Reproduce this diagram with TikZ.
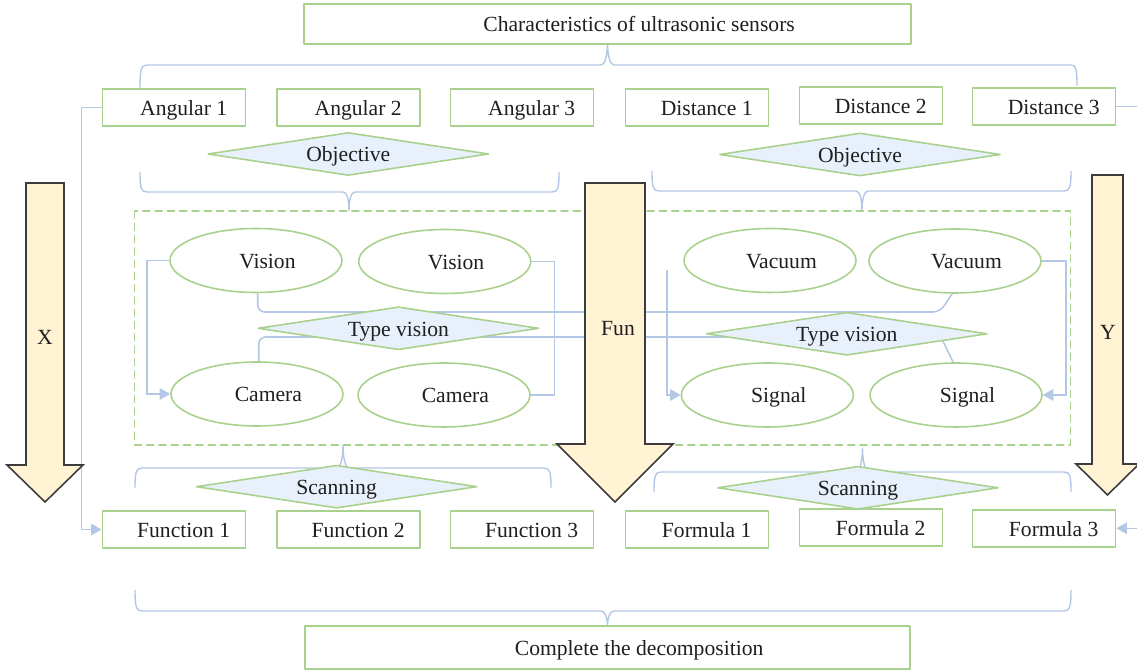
\documentclass[tikz,border=0pt]{standalone}
\usepackage{fontspec}
\setmainfont{Liberation Serif}
\usetikzlibrary{arrows.meta,shapes.geometric,backgrounds}

\definecolor{boxgreen}{RGB}{169,209,142}
\definecolor{linkblue}{RGB}{180,199,231}
\definecolor{diafill}{RGB}{232,241,251}
\definecolor{arrowfill}{RGB}{255,243,212}
\definecolor{arrowline}{RGB}{60,60,60}

\tikzset{
  every node/.style={font=\fontsize{12.3}{14}\selectfont, text=black!88, text height=9pt, text depth=0pt},
  box/.style={draw=boxgreen, fill=white, line width=1pt, minimum width=2.86cm, minimum height=0.74cm,
    inner sep=2pt, execute at begin node={\hspace*{#1}}},
  box/.default=11pt,
  oval/.style={ellipse, draw=boxgreen, fill=white, line width=0.9pt, minimum width=3.44cm, minimum height=1.28cm,
    inner sep=1pt, execute at begin node={\hspace*{13pt}}},
  choice/.style={diamond, draw=boxgreen, fill=diafill, line width=0.9pt, shape aspect=6, inner sep=0pt,
    minimum width=5.62cm, minimum height=0.86cm},
  link/.style={draw=linkblue, line width=0.9pt},
  linkarrow/.style={-{Triangle[length=6pt,width=6.5pt]}},
  brace/.style={draw=linkblue, line width=0.8pt},
  group/.style={draw=boxgreen, line width=0.9pt, dash pattern=on 4pt off 3pt},
  bigarrow/.style={draw=arrowline, fill=arrowfill, line width=0.9pt, line join=miter}
}

\begin{document}
\begin{tikzpicture}[x=0.02cm, y=-0.02cm, line join=round, line cap=round]

  \useasboundingbox (0,0) rectangle (1137,671);

  % title and result
  \node[box=36pt, minimum width=12.14cm, minimum height=0.8cm] (top) at (607.5,24) {Characteristics of ultrasonic sensors};
  \node[box=36pt, minimum width=12.1cm, minimum height=0.86cm] (bottom) at (607.5,647.5) {Complete the decomposition};

  % upper row
  \node[box] (a1) at (174,107.5) {Angular 1};
  \node[box] (a2) at (348.5,107.5) {Angular 2};
  \node[box] (a3) at (522,107.5) {Angular 3};
  \node[box] (d1) at (697,107.5) {Distance 1};
  \node[box] (d2) at (871,105.5) {Distance 2};
  \node[box] (d3) at (1044,106.3) {Distance 3};

  % lower row
  \node[box] (f1) at (174,529.5) {Function 1};
  \node[box] (f2) at (348.5,529.5) {Function 2};
  \node[box] (f3) at (522,529.5) {Function 3};
  \node[box] (fo1) at (697,529.5) {Formula 1};
  \node[box] (fo2) at (871,527.3) {Formula 2};
  \node[box] (fo3) at (1044,528.3) {Formula 3};

  % inner group
  \draw[group] (134.7,211) rectangle (1070.5,445);
  \node[oval] (v1) at (256,260.5) {Vision};
  \node[oval] (v2) at (444.7,261.5) {Vision};
  \node[oval] (cam1) at (257,394) {Camera};
  \node[oval] (cam2) at (444,395) {Camera};
  \node[oval] (vac1) at (770,260.5) {Vacuum};
  \node[oval] (vac2) at (955,261) {Vacuum};
  \node[oval] (sig1) at (767.4,395) {Signal};
  \node[oval] (sig2) at (956,395) {Signal};

  % decisions
  \node[choice] (obj1) at (348.3,154) {Objective};
  \node[choice] (obj2) at (860,154.5) {Objective};
  \node[choice] (type1) at (398.4,328.3) {Type vision};
  \node[choice] (type2) at (846.8,333.8) {Type vision};
  \node[choice] (scan1) at (336.6,486.7) {Scanning};
  \node[choice] (scan2) at (858,487.8) {Scanning};

  \coordinate (sigin) at (667,270);
  \coordinate (redge1) at (1137,106.3);
  \coordinate (redge2) at (1137,528.3);

  \begin{scope}[on background layer]
    % braces
    \draw[brace] (140,88) .. controls (140,70) and (141,65) .. (147,65) -- (601,65)
      .. controls (605,65) and (607,56) .. (top.south) .. controls (608,56) and (610,65) .. (614,65)
      -- (1071,65) .. controls (1076,65) and (1077,70) .. (1077,86);
    \draw[brace] (140,172) .. controls (140,188) and (141,192) .. (147,192) -- (343,192)
      .. controls (347,192) and (349,200) .. (349,211) .. controls (349,200) and (351,192) .. (355,192)
      -- (552,192) .. controls (558,192) and (559,188) .. (559,172);
    \draw[brace] (652,171) .. controls (652,187) and (653,191) .. (659,191) -- (856,191)
      .. controls (860,191) and (862,200) .. (862,211) .. controls (862,200) and (864,191) .. (868,191)
      -- (1064,191) .. controls (1070,191) and (1071,187) .. (1071,171);
    \draw[brace] (135,488) .. controls (135,472) and (136,468) .. (142,468) -- (337,468)
      .. controls (341,468) and (343,456) .. (343,445) .. controls (343,456) and (345,468) .. (349,468)
      -- (544,468) .. controls (550,468) and (551,472) .. (551,488);
    \draw[brace] (654,492) .. controls (654,476) and (655,472) .. (661,472) -- (856,472)
      .. controls (860,472) and (862.5,460) .. (862.5,448) .. controls (862.5,460) and (865,472) .. (869,472)
      -- (1064,472) .. controls (1070,472) and (1071,476) .. (1071,492);
    \draw[brace] (135,590) .. controls (135,606) and (136,611) .. (142,611) -- (601,611)
      .. controls (605,611) and (607.5,618) .. (bottom.north) .. controls (607.5,618) and (610,611) .. (614,611)
      -- (1064,611) .. controls (1070,611) and (1071,606) .. (1071,590);

    % connectors
    \draw[link, linkarrow] (a1.west) -- ++(-20,0) |- (f1.west);
    \draw[link, linkarrow] (v1.west) -- ++(-22,0) |- (cam1.west);
    \draw[link] (v2.east) -- ++(23,0) |- (cam2.east);
    \draw[link, rounded corners=4pt] (v1.273) |- (940,312) -- (vac2.265);
    \draw[link, rounded corners=4pt] (cam1.87) |- (941,337) -- (sig2.95);
    \draw[link, linkarrow] (sigin) |- (sig1.west);
    \draw[link, linkarrow] (vac2.east) -- ++(24,0) |- (sig2.east);
    \draw[link] (d3.east) -- (redge1);
    \draw[link, linkarrow] (redge2) -- (fo3.east);
  \end{scope}

  % block arrows
  \filldraw[bigarrow] (26,183) -- (64,183) -- (64,465) -- (83,465) -- (45,502) -- (7,465) -- (26,465) -- cycle;
  \node (xlab) at (45,337) {X};
  \filldraw[bigarrow] (585,183) -- (645,183) -- (645,444) -- (673,444) -- (615,502) -- (557,444) -- (585,444) -- cycle;
  \node (funlab) at (618,328) {Fun};
  \filldraw[bigarrow] (1092,175) -- (1123,175) -- (1123,464) -- (1139,464) -- (1107.5,495) -- (1076,464) -- (1092,464) -- cycle;
  \node (ylab) at (1108,332) {Y};

\end{tikzpicture}
\end{document}
